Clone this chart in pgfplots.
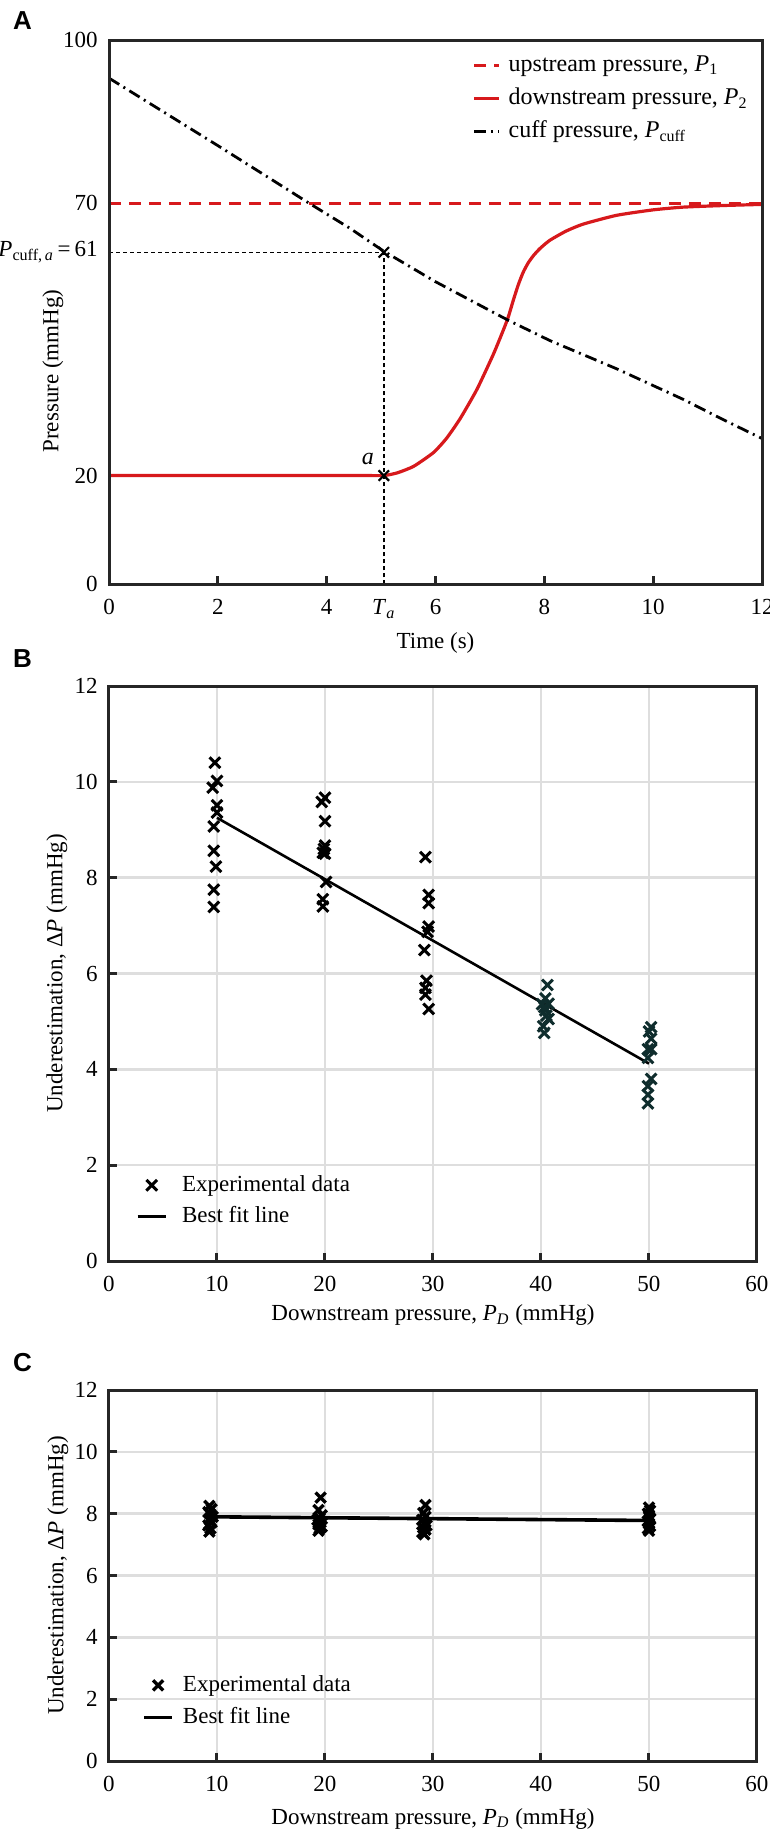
\documentclass[border=0pt]{standalone}
\usepackage{fontspec}
\setmainfont{Liberation Serif}
\newfontfamily\panelfont{Liberation Sans}
\usepackage{pgfplots}
\pgfplotsset{compat=1.18}

\definecolor{axisgray}{RGB}{38,38,38}
\definecolor{gridgray}{RGB}{222,222,222}
\definecolor{pred}{RGB}{215,25,28}
\definecolor{darkteal}{RGB}{15,45,45}

\newcommand\figtextfont{\fontsize{11.5pt}{13.8pt}\selectfont}
\newcommand\figkeyfont{\fontsize{12pt}{14.4pt}\selectfont}
\newcommand\figletterfont{\fontsize{13pt}{15.6pt}\selectfont\panelfont\bfseries}

\pgfplotsset{
  common/.style={
    scale only axis,
    axis line style={axisgray, line width=1.5pt},
    every tick/.style={axisgray, line width=1.5pt},
    tick align=inside,
    major tick length=4pt,
    xtick pos=bottom, ytick pos=left,
    tick label style={font=\figtextfont, text=black},
    label style={font=\figtextfont},
    /pgf/number format/assume math mode=true,
    xticklabel style={yshift=-3.6pt},
    yticklabel style={xshift=-1.7pt},
    clip=false,
    after end axis/.code={
      \draw[axisgray, line width=1.5pt] (rel axis cs:0,0) rectangle (rel axis cs:1,1);
    },
  },
  legshort/.style={
    legend image code/.code={\draw[mark repeat=2, mark phase=2, ##1]
      plot coordinates {(0pt,0pt) (6.25pt,0pt) (12.5pt,0pt)};}
  },
  legline/.style={
    legend image code/.code={\draw[mark repeat=2, mark phase=2, ##1]
      plot coordinates {(0pt,0pt) (7pt,0pt) (14pt,0pt)};}
  },
}

\begin{document}
\figtextfont
\begin{tikzpicture}
\path[use as bounding box] (0,0) rectangle (385pt,-916pt);

\node[font=\figletterfont] at (11.25pt,-10.25pt) {A};
\node[font=\figletterfont] at (11.25pt,-329.25pt) {B};
\node[font=\figletterfont] at (11.25pt,-681.5pt) {C};

% ---------------- A: pressures against time ----------------
\begin{axis}[common, legshort,
  legend style={at={(axis description cs:0.556,0.978)}, anchor=north west,
    draw=none, fill=none, font=\figkeyfont,
    inner sep=0pt, row sep=3.6pt,
    nodes={inner sep=1pt, text height=8.5pt, text depth=2.5pt},
    /tikz/every odd column/.append style={column sep=3pt}},
  legend cell align=left,
  at={(54.5pt,-292.2pt)}, anchor=south west,
  width=326.5pt, height=272.2pt,
  xmin=0, xmax=12, ymin=0, ymax=100,
  xtick={0,2,4,6,8,10,12}, ytick={0,20,70,100},
  extra x ticks={5.05},
  extra x tick labels={\textit{T}\textsubscript{\textit{a}}},
  extra y ticks={61},
  extra y tick labels={{\textit{P}\textsubscript{cuff,\,\textit{a}}\,=\,61}},
  extra tick style={major tick length=0pt},
  xlabel={Time (s)},
  ylabel={Pressure (mmHg)},
  xlabel style={at={([yshift=-29.2pt]axis description cs:0.5,0)}, anchor=center},
  ylabel style={at={([xshift=-28pt]axis description cs:0,0.392)}, anchor=center},
]
\addplot[pred, line width=1.6pt, dash pattern=on 6pt off 4pt]
  coordinates {(0,70) (12,70)};
\addlegendentry{{\figkeyfont upstream pressure, \textit{P}\textsubscript{1}}}

\addplot[pred, line width=1.6pt, smooth, tension=0.35] coordinates {
  (0,20) (2.5,20) (4.6,20) (5.05,20) (5.3,20.5) (5.6,21.7) (5.96,24.2)
  (6.2,26.8) (6.45,30.4) (6.76,35.8) (7.06,42.2) (7.25,46.8) (7.34,49.2)
  (7.43,52.2) (7.52,55) (7.61,57.3) (7.7,59) (7.8,60.4) (7.92,61.7)
  (8.1,63.2) (8.4,64.9) (8.72,66.2) (9.33,67.8) (10,68.8) (10.55,69.3)
  (11.3,69.6) (12,69.8)};
\addlegendentry{{\figkeyfont downstream pressure, \textit{P}\textsubscript{2}}}

\addplot[black, line width=1.4pt,
  dash pattern=on 6pt off 2.5pt on 1pt off 2.5pt] coordinates {
  (0,93) (1,86.8) (2,80.6) (3,74.3) (3.68,70) (4.43,65.4) (5.05,61.2)
  (6,55.6) (7,50.3) (7.34,48.5) (8.1,44.8) (9.33,39.6) (10.55,34)
  (11.3,30.2) (12,26.8)};
\addlegendentry{{\figkeyfont cuff pressure, \textit{P}\textsubscript{cuff}}}

% guide lines to the reading at point a
\addplot[forget plot, black, line width=0.75pt, dash pattern=on 2pt off 1.5pt]
  coordinates {(0,61) (5.05,61)};
\addplot[forget plot, black, line width=0.75pt, dash pattern=on 2pt off 1.5pt]
  coordinates {(5.05,0) (5.05,61)};
\addplot[forget plot, only marks, mark=x, mark size=3.7pt, black,
  mark options={line width=1.1pt}] coordinates {(5.05,61) (5.05,20)};
\node[font=\figkeyfont, xshift=-8pt, yshift=8.5pt] at (axis cs:5.05,20) {\textit{a}};
\end{axis}

% ---------------- B: underestimation, first protocol ----------------
\begin{axis}[common, legline,
  at={(54.5pt,-630.5pt)}, anchor=south west,
  width=324pt, height=287.5pt,
  xmin=0, xmax=60, ymin=0, ymax=12,
  xtick={0,10,...,60}, ytick={0,2,...,12},
  grid=major, grid style={gridgray, line width=1.3pt},
  xlabel={Downstream pressure, \textit{P}\textsubscript{\textit{D}} (mmHg)},
  ylabel={Underestimation, Δ\textit{P} (mmHg)},
  xlabel style={at={([yshift=-27pt]axis description cs:0.5,0)}, anchor=center},
  ylabel style={at={([xshift=-26pt]axis description cs:0,0.5)}, anchor=center},
  legend style={at={(axis description cs:0.0417,0.155)}, anchor=north west,
    draw=none, fill=none, font=\figtextfont,
    inner sep=0pt, row sep=2.5pt,
    nodes={inner sep=1pt, text height=8.5pt, text depth=2.5pt},
    cells={anchor=west},
    /tikz/every odd column/.append style={column sep=6.5pt}},
]
\addplot[only marks, mark=x, mark size=3.8pt, black,
  mark options={line width=1.5pt}] coordinates {
  (9.8,10.4) (10.0,10.02) (9.6,9.88) (10.0,9.51) (10.0,9.36) (9.7,9.07)
  (9.7,8.56) (9.9,8.23) (9.7,7.75) (9.7,7.39)
  (20.0,9.67) (19.7,9.58) (20.0,9.18) (20.0,8.67) (19.8,8.52) (20.0,8.5)
  (19.9,8.6) (20.1,7.91) (19.8,7.55) (19.8,7.4)
  (29.3,8.43) (29.6,7.64) (29.6,7.47) (29.6,6.98) (29.5,6.87) (29.2,6.49)
  (29.4,5.85) (29.3,5.7) (29.3,5.56) (29.6,5.26)};
\addlegendentry{\figtextfont Experimental data}
\addplot[forget plot, only marks, mark=x, mark size=3.8pt, darkteal,
  mark options={line width=1.5pt}] coordinates {
  (40.6,5.76) (40.4,5.48) (40.1,5.36) (40.7,5.37) (40.4,5.23) (40.7,5.05)
  (40.2,4.9) (40.3,4.76) (40.5,5.12) (40.3,5.3)
  (50.2,4.88) (50.0,4.79) (50.2,4.64) (49.9,4.42) (50.2,4.42) (49.9,4.24)
  (50.2,3.8) (49.9,3.65) (49.9,3.47) (49.9,3.29)};
\addplot[black, line width=1.3pt] coordinates {(10,9.25) (50,4.12)};
\addlegendentry{\figtextfont Best fit line}
\end{axis}

% ---------------- C: underestimation, second protocol ----------------
\begin{axis}[common, legline,
  at={(54.5pt,-880.5pt)}, anchor=south west,
  width=324pt, height=185.5pt,
  xmin=0, xmax=60, ymin=0, ymax=12,
  xtick={0,10,...,60}, ytick={0,2,...,12},
  grid=major, grid style={gridgray, line width=1.3pt},
  xlabel={Downstream pressure, \textit{P}\textsubscript{\textit{D}} (mmHg)},
  ylabel={Underestimation, Δ\textit{P} (mmHg)},
  xlabel style={at={([yshift=-28.9pt]axis description cs:0.5,0)}, anchor=center},
  ylabel style={at={([xshift=-25.5pt]axis description cs:0,0.5)}, anchor=center},
  legend style={at={(axis description cs:0.0509,0.240)}, anchor=north west,
    draw=none, fill=none, font=\figtextfont,
    inner sep=0pt, row sep=3pt,
    nodes={inner sep=1pt, text height=8.5pt, text depth=2.5pt},
    cells={anchor=west},
    /tikz/every odd column/.append style={column sep=3.5pt}},
]
\addplot[only marks, mark=x, mark size=3.6pt, black,
  mark options={line width=1.7pt}] coordinates {
  (9.3,8.25) (9.5,8.15) (9.2,8.05) (9.4,7.98) (9.6,7.9) (9.3,7.82)
  (9.5,7.72) (9.2,7.62) (9.4,7.52) (9.3,7.42)
  (19.6,8.52) (19.4,8.12) (19.7,7.95) (19.5,7.85) (19.3,7.8) (19.6,7.72)
  (19.4,7.65) (19.7,7.58) (19.5,7.52) (19.4,7.45)
  (29.3,8.28) (29.1,8.02) (29.3,7.9) (29.0,7.8) (29.2,7.7) (29.4,7.62)
  (29.1,7.55) (29.3,7.48) (29.0,7.4) (29.2,7.33)
  (50.0,8.2) (50.1,8.1) (49.9,8.0) (50.0,7.9) (50.1,7.82) (49.9,7.75)
  (50.0,7.68) (50.1,7.6) (49.9,7.52) (50.0,7.45)};
\addlegendentry{\figtextfont Experimental data}
\addplot[black, line width=1.8pt] coordinates {(9.3,7.9) (50,7.78)};
\addlegendentry{\figtextfont Best fit line}
\end{axis}
\end{tikzpicture}
\end{document}
